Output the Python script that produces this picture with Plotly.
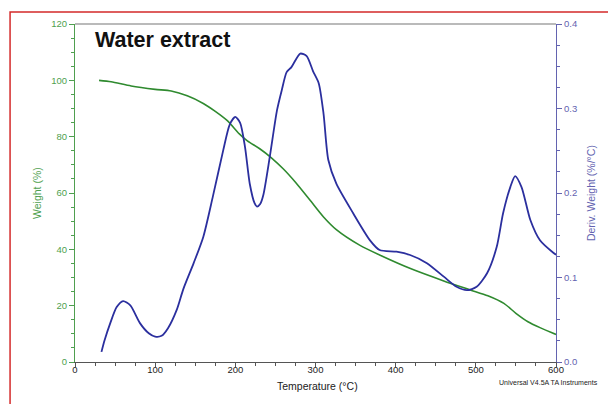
import plotly.graph_objects as go

# Weight (%) curve
temp_weight = [30, 45, 70, 100, 120, 140, 160, 175, 190, 205, 215, 230, 245, 260, 275,
               293, 310, 326, 355, 380, 420, 460, 493, 515, 535, 550, 565, 580, 600]
weight = [100, 99.5, 98, 96.8, 96.2, 94.5, 91.8, 89, 85.7, 81, 78.5, 75.8, 72.5, 68.5, 63.8,
          57.5, 51.5, 47, 41.5, 38, 33, 28.8, 25.6, 23.5, 20.8, 17.3, 14.3, 12.2, 9.8]

# Derivative weight (%/°C) curve
temp_deriv = [33, 37, 44, 52, 60, 69, 81, 92, 100, 108, 116, 127, 135, 148, 160, 172, 185, 193,
              200, 206, 212, 218, 224, 227, 231, 235, 243, 252, 258, 264, 270, 281, 289, 297,
              304, 310, 316, 326, 347, 368, 380, 401, 418, 439, 460, 476, 489, 501, 514, 526,
              534, 543, 549, 557, 568, 580, 597, 600]
deriv = [0.012, 0.026, 0.046, 0.065, 0.072, 0.067, 0.046, 0.034, 0.030, 0.031, 0.040, 0.062,
         0.086, 0.117, 0.148, 0.196, 0.251, 0.281, 0.290, 0.283, 0.255, 0.211, 0.188, 0.184,
         0.187, 0.198, 0.243, 0.298, 0.322, 0.343, 0.349, 0.365, 0.362, 0.344, 0.330, 0.294,
         0.239, 0.211, 0.176, 0.144, 0.1325, 0.1305, 0.1266, 0.117, 0.101, 0.089, 0.085, 0.089,
         0.105, 0.136, 0.176, 0.207, 0.220, 0.207, 0.168, 0.144, 0.129, 0.127]

x_ticks = [0, 100, 200, 300, 400, 500, 600]
y_ticks = [0, 20, 40, 60, 80, 100, 120]
y2_ticks = [0.0, 0.1, 0.2, 0.3, 0.4]

GREEN = "#2f8a2f"
GREEN_AX = "#4f9f4f"
BLUE = "#2b2f9e"
BLUE_AX = "#6363b0"
FONT = "Liberation Sans, Arial, sans-serif"

fig = go.Figure()
fig.add_trace(go.Scatter(x=temp_weight, y=weight, mode="lines",
                         line=dict(color=GREEN, width=1.6, shape="spline", smoothing=0.7),
                         showlegend=False, yaxis="y"))
fig.add_trace(go.Scatter(x=temp_deriv, y=deriv, mode="lines",
                         line=dict(color=BLUE, width=1.8, shape="spline", smoothing=0.7),
                         showlegend=False, yaxis="y2"))

fig.update_layout(
    width=608, height=404,
    margin=dict(l=75, r=52, t=24, b=42),
    paper_bgcolor="white", plot_bgcolor="white",
    font=dict(family=FONT, size=9),
    xaxis=dict(range=[0, 600], tickvals=x_ticks, ticktext=[str(v) for v in x_ticks],
               showgrid=False, zeroline=False, showline=True, linecolor="#555555", linewidth=1.2,
               ticks="outside", ticklen=4, tickcolor="#555555", ticklabelstandoff=-6,
               minor=dict(dtick=25, ticks="outside", ticklen=3, tickcolor="#555555"),
               tickfont=dict(color="#222222", size=9.5), mirror=False),
    yaxis=dict(range=[0, 120], tickvals=y_ticks, ticktext=[str(v) for v in y_ticks],
               showgrid=False, zeroline=False, showline=True, linecolor=GREEN_AX, linewidth=1.2,
               ticks="outside", ticklen=5, tickcolor=GREEN_AX,
               minor=dict(dtick=5, ticks="outside", ticklen=3, tickcolor=GREEN_AX),
               tickfont=dict(color=GREEN_AX, size=9.5)),
    yaxis2=dict(range=[0, 0.4], overlaying="y", side="right", tickvals=y2_ticks,
                ticktext=["%.1f" % v for v in y2_ticks],
                showgrid=False, zeroline=False, showline=True, linecolor=BLUE_AX, linewidth=1.2,
                ticks="outside", ticklen=5, tickcolor=BLUE_AX,
                minor=dict(dtick=0.025, ticks="outside", ticklen=3, tickcolor=BLUE_AX),
                tickfont=dict(color=BLUE_AX, size=9.5)),
    shapes=[
        dict(type="line", xref="paper", yref="paper", x0=0, x1=1, y0=1, y1=1,
             line=dict(color="#777777", width=1.2)),
        dict(type="rect", xref="paper", yref="paper", x0=-0.135, x1=1.25, y0=-0.3, y1=1.0355,
             line=dict(color="#d42a2a", width=1.5)),
    ],
    annotations=[
        dict(text="<b>Water extract</b>", xref="paper", yref="paper", x=0.038, y=0.993,
             xanchor="left", yanchor="top", showarrow=False,
             font=dict(family=FONT, size=21.5, color="#111111")),
        dict(text="Weight (%)", xref="paper", yref="paper", x=-0.079, y=0.5,
             xanchor="center", yanchor="middle", textangle=-90, showarrow=False,
             font=dict(family=FONT, size=10.5, color=GREEN_AX)),
        dict(text="Deriv. Weight (%/°C)", xref="paper", yref="paper", x=1.073, y=0.5,
             xanchor="center", yanchor="middle", textangle=-90, showarrow=False,
             font=dict(family=FONT, size=10.5, color=BLUE_AX)),
        dict(text="Temperature (°C)", xref="paper", yref="paper", x=0.505, y=-0.072,
             xanchor="center", yanchor="middle", showarrow=False,
             font=dict(family=FONT, size=10.5, color="#222222")),
        dict(text="Universal V4.5A TA Instruments", xref="paper", yref="paper", x=0.878, y=-0.062,
             xanchor="left", yanchor="middle", showarrow=False,
             font=dict(family=FONT, size=7, color="#222222")),
    ],
)

fig.write_html("out.html", config={"displayModeBar": False},
               post_script="document.body.style.margin='0';document.body.style.overflow='hidden';")
